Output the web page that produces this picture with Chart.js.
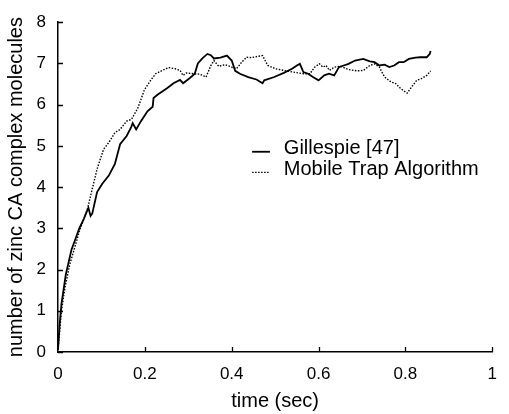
<!DOCTYPE html>
<html>
<head>
<meta charset="utf-8">
<script src="https://cdn.jsdelivr.net/npm/chart.js@4.4.1/dist/chart.umd.min.js"></script>
<style>
  body { margin: 0; background: #fff; }
  #wrap { width: 509px; height: 414px; }
</style>
</head>
<body>
<div id="wrap"><canvas id="myChart" width="509" height="414"></canvas></div>
<script>
// Gillespie [47] run (solid line)
var gillespieT = [0, 0.004, 0.008, 0.018, 0.031, 0.038, 0.049, 0.06, 0.066, 0.07,
  0.075, 0.079, 0.09, 0.102, 0.117, 0.131, 0.143, 0.158, 0.168, 0.172,
  0.18, 0.191, 0.206, 0.218, 0.22, 0.229, 0.251, 0.266, 0.281, 0.288,
  0.303, 0.315, 0.322, 0.333, 0.344, 0.352, 0.359, 0.374, 0.389, 0.4,
  0.408, 0.419, 0.438, 0.457, 0.471, 0.475, 0.498, 0.52, 0.539, 0.55,
  0.557, 0.565, 0.576, 0.587, 0.6, 0.613, 0.624, 0.636, 0.647, 0.658,
  0.669, 0.684, 0.703, 0.718, 0.729, 0.74, 0.752, 0.763, 0.774, 0.785,
  0.796, 0.808, 0.823, 0.834, 0.849, 0.856, 0.858];
var gillespieN = [0.05, 0.7, 1.17, 1.88, 2.48, 2.68, 3.0, 3.24, 3.4, 3.5,
  3.3, 3.36, 3.88, 4.08, 4.28, 4.56, 5.04, 5.24, 5.44, 5.55,
  5.4, 5.6, 5.84, 5.95, 6.16, 6.24, 6.4, 6.52, 6.6, 6.52,
  6.64, 6.75, 7.0, 7.13, 7.23, 7.2, 7.12, 7.14, 7.19, 7.07,
  6.82, 6.75, 6.67, 6.61, 6.52, 6.59, 6.67, 6.77, 6.87, 6.95,
  6.99, 6.79, 6.75, 6.67, 6.59, 6.71, 6.75, 6.71, 6.91, 6.95,
  6.99, 7.07, 7.11, 7.05, 7.03, 6.95, 6.97, 6.91, 6.95, 7.03,
  7.03, 7.11, 7.14, 7.15, 7.15, 7.23, 7.3];

// Mobile Trap Algorithm run (dotted line)
var mobileT = [0, 0.008, 0.016, 0.027, 0.038, 0.049, 0.06, 0.068, 0.079, 0.09,
  0.105, 0.117, 0.131, 0.143, 0.158, 0.169, 0.184, 0.199, 0.214, 0.225,
  0.24, 0.255, 0.27, 0.281, 0.288, 0.296, 0.311, 0.326, 0.341, 0.352,
  0.359, 0.37, 0.385, 0.4, 0.411, 0.423, 0.434, 0.445, 0.46, 0.471,
  0.483, 0.501, 0.52, 0.542, 0.565, 0.58, 0.591, 0.602, 0.61, 0.617,
  0.625, 0.636, 0.651, 0.669, 0.688, 0.703, 0.718, 0.729, 0.74, 0.752,
  0.767, 0.778, 0.789, 0.804, 0.815, 0.826, 0.837, 0.849, 0.858];
var mobileN = [0.05, 1.0, 1.56, 2.12, 2.52, 2.92, 3.24, 3.48, 3.96, 4.44,
  4.92, 5.08, 5.32, 5.4, 5.6, 5.64, 5.92, 6.36, 6.6, 6.75,
  6.83, 6.9, 6.87, 6.83, 6.71, 6.77, 6.75, 6.74, 6.67, 6.95,
  7.07, 6.93, 6.97, 6.91, 6.87, 7.03, 7.15, 7.14, 7.17, 7.19,
  6.95, 6.87, 6.83, 6.79, 6.75, 6.75, 6.91, 6.99, 6.91, 6.95,
  6.83, 6.91, 6.93, 6.85, 6.82, 6.83, 6.95, 6.99, 6.91, 6.67,
  6.55, 6.51, 6.39, 6.28, 6.44, 6.59, 6.63, 6.71, 6.82];

var seriesNames = ["Gillespie [47]", "Mobile Trap Algorithm"];
var xTitle = "time (sec)";
var yTitle = "number of zinc CA complex molecules";

var FONT = "'Liberation Sans', Arial, Helvetica, sans-serif";

function toPoints(ts, ns) {
  return ts.map(function (t, i) { return { x: t, y: ns[i] }; });
}

// short tick marks pointing into the plot, like the original figure
var inwardTicks = {
  id: "inwardTicks",
  afterDatasetsDraw: function (chart) {
    var ctx = chart.ctx, area = chart.chartArea;
    var xs = chart.scales.x, ys = chart.scales.y;
    ctx.save();
    ctx.strokeStyle = "#000";
    ctx.lineWidth = 1.3;
    ctx.beginPath();
    xs.ticks.forEach(function (t, i) {
      if (i === 0) return;
      var px = Math.round(xs.getPixelForTick(i)) + 0.5;
      ctx.moveTo(px, area.bottom);
      ctx.lineTo(px, area.bottom - 5);
    });
    ys.ticks.forEach(function (t, i) {
      var py = Math.round(ys.getPixelForTick(i)) + 0.5;
      ctx.moveTo(area.left, py);
      ctx.lineTo(area.left + 5, py);
    });
    ctx.stroke();
    ctx.restore();
  }
};

// legend drawn inside the plot, short line sample to the left of the text
var innerLegend = {
  id: "innerLegend",
  afterDraw: function (chart) {
    var ctx = chart.ctx;
    var xs = chart.scales.x, ys = chart.scales.y;
    var textX = xs.getPixelForValue(0.52);
    var lineX0 = xs.getPixelForValue(0.447);
    var lineX1 = xs.getPixelForValue(0.488);
    var rows = [ys.getPixelForValue(4.93), ys.getPixelForValue(4.43)];
    ctx.save();
    ctx.font = "20px " + FONT;
    ctx.textBaseline = "middle";
    ctx.fillStyle = "#000";
    chart.data.datasets.forEach(function (ds, i) {
      var y = rows[i];
      ctx.strokeStyle = ds.borderColor;
      ctx.lineWidth = ds.borderWidth;
      ctx.setLineDash(ds.borderDash || []);
      ctx.beginPath();
      ctx.moveTo(lineX0, y + 3);
      ctx.lineTo(lineX1, y + 3);
      ctx.stroke();
      ctx.setLineDash([]);
      ctx.fillText(ds.label, textX, y);
    });
    ctx.restore();
  }
};

new Chart("myChart", {
  type: "line",
  data: {
    datasets: [{
      label: seriesNames[0],
      data: toPoints(gillespieT, gillespieN),
      borderColor: "#000",
      borderWidth: 1.8,
      pointRadius: 0,
      tension: 0,
      fill: false
    }, {
      label: seriesNames[1],
      data: toPoints(mobileT, mobileN),
      borderColor: "#000",
      borderWidth: 1.4,
      borderDash: [1.5, 1.5],
      pointRadius: 0,
      tension: 0,
      fill: false
    }]
  },
  options: {
    responsive: false,
    animation: false,
    events: [],
    layout: { padding: { top: 18, right: 5, bottom: 0, left: 0 } },
    plugins: {
      legend: { display: false },
      tooltip: { enabled: false }
    },
    scales: {
      x: {
        type: "linear",
        min: 0,
        max: 1,
        grid: { display: false, drawTicks: false },
        border: { display: true, color: "#000", width: 1.5 },
        ticks: {
          stepSize: 0.2,
          padding: 12,
          color: "#000",
          font: { family: FONT, size: 17 },
          maxRotation: 0,
          callback: function (v) { return String(Number(v.toFixed(1))); }
        },
        title: {
          display: true,
          text: xTitle,
          color: "#000",
          font: { family: FONT, size: 20 },
          padding: { top: 0, bottom: 1 }
        },
        afterFit: function (scale) { scale.height = 62; }
      },
      y: {
        min: 0,
        max: 8,
        grid: { display: false, drawTicks: false },
        border: { display: true, color: "#000", width: 1.5 },
        ticks: {
          stepSize: 1,
          padding: 12,
          color: "#000",
          font: { family: FONT, size: 17 }
        },
        title: {
          display: true,
          text: yTitle,
          color: "#000",
          font: { family: FONT, size: 20 },
          padding: { top: 4, bottom: 0 }
        },
        afterFit: function (scale) { scale.width = 58; }
      }
    }
  },
  plugins: [inwardTicks, innerLegend]
});
</script>
</body>
</html>
